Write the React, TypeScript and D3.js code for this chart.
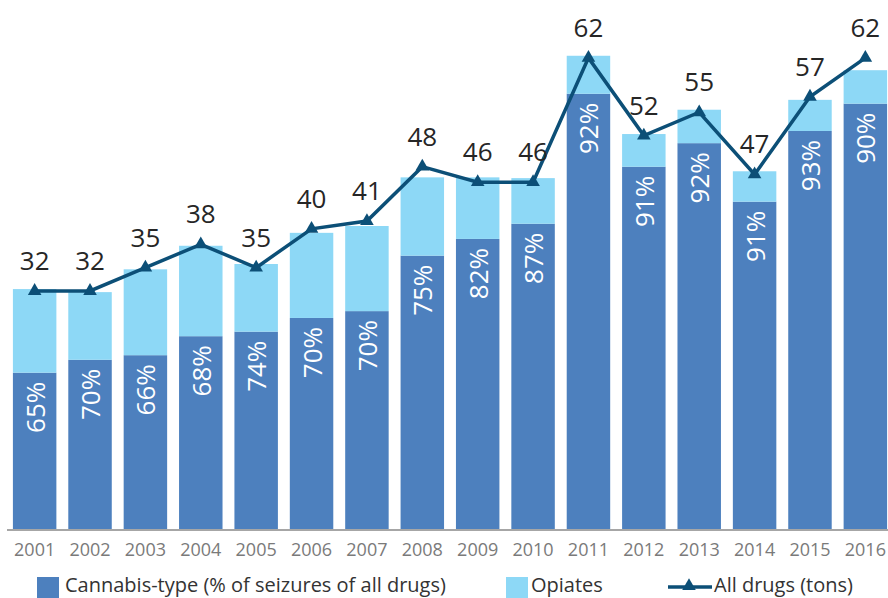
import React, { useEffect, useRef } from "react";
import * as d3 from "d3";

const years = ["2001", "2002", "2003", "2004", "2005", "2006", "2007", "2008", "2009", "2010", "2011", "2012", "2013", "2014", "2015", "2016"];
// tons
const cannabis = [20.7, 22.4, 23.0, 25.5, 26.1, 27.9, 28.8, 36.1, 38.3, 40.3, 57.4, 47.8, 50.9, 43.2, 52.5, 56.1];
const opiates = [11.0, 8.9, 11.3, 11.9, 8.9, 11.2, 11.2, 10.3, 8.1, 6.0, 5.0, 4.3, 4.4, 4.0, 4.1, 4.4];
const cannabisPct = ["65%", "70%", "66%", "68%", "74%", "70%", "70%", "75%", "82%", "87%", "92%", "91%", "92%", "91%", "93%", "90%"];
const allDrugs = [32, 32, 35, 38, 35, 40, 41, 48, 46, 46, 62, 52, 55, 47, 57, 62];

const FONT = "'Open Sans', 'DejaVu Sans', sans-serif";
const C_CANNABIS = "#4d80be";
const C_OPIATES = "#8dd8f6";
const C_LINE = "#0c4f77";

const App: React.FC = () => {
  const svgRef = useRef<SVGSVGElement | null>(null);

  useEffect(() => {
    if (!svgRef.current) return;
    const width = 888;
    const height = 598;
    const baseY = 530;

    const svg = d3.select(svgRef.current);
    svg.selectAll("*").remove();
    svg.attr("width", width).attr("height", height);

    const x = d3.scaleBand<string>().domain(years).range([1, 899]).paddingInner(0.215).paddingOuter(0.215);
    const yBar = d3.scaleLinear().domain([0, 70]).range([baseY, -2]);
    const yLine = d3.scaleLinear().domain([0, 70]).range([539.6, -4.3]);
    const cx = (i: number) => x(years[i])! + x.bandwidth() / 2;

    // stacked bars
    const g = svg.append("g");
    g.selectAll(".can")
      .data(cannabis)
      .enter()
      .append("rect")
      .attr("x", (_, i) => x(years[i])!)
      .attr("y", (d) => yBar(d))
      .attr("width", x.bandwidth())
      .attr("height", (d) => baseY - yBar(d))
      .attr("fill", C_CANNABIS);

    g.selectAll(".opi")
      .data(opiates)
      .enter()
      .append("rect")
      .attr("x", (_, i) => x(years[i])!)
      .attr("y", (d, i) => yBar(d + cannabis[i]))
      .attr("width", x.bandwidth())
      .attr("height", (d) => baseY - yBar(d))
      .attr("fill", C_OPIATES);

    // percent labels
    g.selectAll(".pct")
      .data(cannabisPct)
      .enter()
      .append("text")
      .attr("transform", (_, i) => `translate(${cx(i)},${yBar(cannabis[i]) + 9}) rotate(-90)`)
      .attr("text-anchor", "end")
      .attr("dominant-baseline", "central")
      .attr("font-family", FONT)
      .attr("font-size", 26)
      .attr("fill", "#ffffff")
      .text((d) => d);

    // x axis line
    svg.append("line")
      .attr("x1", 7).attr("x2", width)
      .attr("y1", baseY).attr("y2", baseY)
      .attr("stroke", "#a6a6a6").attr("stroke-width", 2);

    svg.selectAll(".year")
      .data(years)
      .enter()
      .append("text")
      .attr("x", (d) => x(d)! + x.bandwidth() / 2)
      .attr("y", 556)
      .attr("text-anchor", "middle")
      .attr("font-family", FONT)
      .attr("font-size", 18)
      .attr("fill", "#7a7a7a")
      .text((d) => d);

    // all drugs line
    const line = d3.line<number>().x((_, i) => cx(i)).y((d) => yLine(d));
    svg.append("path")
      .datum(allDrugs)
      .attr("d", line)
      .attr("fill", "none")
      .attr("stroke", C_LINE)
      .attr("stroke-width", 3.5);

    const tri = d3.symbol().type(d3.symbolTriangle).size(80);
    svg.selectAll(".mark")
      .data(allDrugs)
      .enter()
      .append("path")
      .attr("d", tri)
      .attr("transform", (d, i) => `translate(${cx(i)},${yLine(d)})`)
      .attr("fill", C_LINE);

    svg.selectAll(".val")
      .data(allDrugs)
      .enter()
      .append("text")
      .attr("x", (_, i) => cx(i))
      .attr("y", (d) => yLine(d) - 21)
      .attr("text-anchor", "middle")
      .attr("font-family", FONT)
      .attr("font-size", 26)
      .attr("fill", "#262626")
      .text((d) => d);

    // legend
    const leg = svg.append("g").attr("font-family", FONT).attr("font-size", 20).attr("fill", "#333");
    leg.append("rect").attr("x", 37).attr("y", 577).attr("width", 22).attr("height", 21).attr("fill", C_CANNABIS);
    leg.append("text").attr("x", 65).attr("y", 592).text("Cannabis-type (% of seizures of all drugs)");
    leg.append("rect").attr("x", 506).attr("y", 577).attr("width", 22).attr("height", 21).attr("fill", C_OPIATES);
    leg.append("text").attr("x", 531).attr("y", 592).text("Opiates");
    leg.append("line").attr("x1", 668).attr("x2", 712).attr("y1", 587).attr("y2", 587)
      .attr("stroke", C_LINE).attr("stroke-width", 3.5);
    leg.append("path").attr("d", tri).attr("transform", "translate(689,586)").attr("fill", C_LINE);
    leg.append("text").attr("x", 714).attr("y", 592).text("All drugs (tons)");
  }, []);

  return <svg ref={svgRef} style={{ position: "absolute", left: 0, top: 0, display: "block" }}></svg>;
};

export default App;
